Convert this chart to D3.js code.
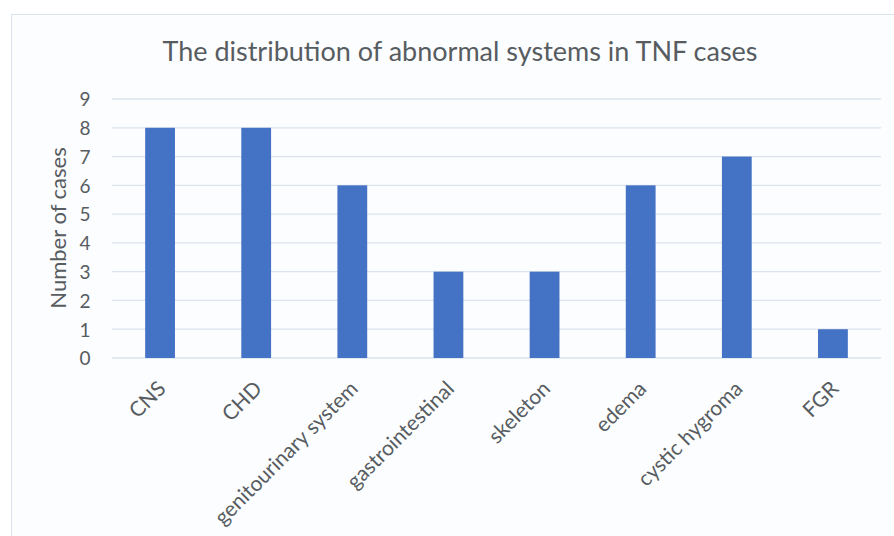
<!DOCTYPE html>
<html><head><meta charset="utf-8">
<script src="https://cdn.jsdelivr.net/npm/d3@7"></script>
<style>body{margin:0;background:#fff}svg{display:block}</style>
</head><body>
<svg id="c" width="894" height="536"></svg>
<script>
const categories = ["CNS","CHD","genitourinary system","gastrointestinal","skeleton","edema","cystic hygroma","FGR"];
const values = [8,8,6,3,3,6,7,1];
const yTicks = [0,1,2,3,4,5,6,7,8,9];
const title = "The distribution of abnormal systems in TNF cases";
const yLabel = "Number of cases";

const svg = d3.select("#c");
const font = "Lato, 'Open Sans', sans-serif";
const textColor = "#575c61";
svg.append("rect").attr("x",11.5).attr("y",14.5).attr("width",900).attr("height",540)
  .attr("fill","#fcfdfe").attr("stroke","#dde3ea").attr("stroke-width",1);

const x = d3.scaleBand().domain(categories).range([112,881]).paddingInner(0.69).paddingOuter(0.345);
const y = d3.scaleLinear().domain([0,9]).range([358,99]);

svg.append("g").selectAll("line").data(yTicks).join("line")
  .attr("x1",112).attr("x2",881).attr("y1",d=>y(d)).attr("y2",d=>y(d))
  .attr("stroke","#dbe4ee").attr("stroke-width",1.3);

svg.append("g").selectAll("rect").data(values).join("rect")
  .attr("x",(d,i)=>x(categories[i])).attr("width",x.bandwidth())
  .attr("y",d=>y(d)).attr("height",d=>y(0)-y(d)).attr("fill","#4472c4");

const yAxis = d3.axisLeft(y).tickValues(yTicks).tickSize(0).tickPadding(0).tickFormat(d3.format("d"));
const ga = svg.append("g").attr("transform","translate(92,0)").call(yAxis);
ga.select(".domain").remove();
ga.attr("font-size",null).attr("font-family",null);
ga.selectAll("text").style("font-family",font).style("font-size","19px").attr("fill",textColor).attr("text-anchor","middle").attr("x",-7).attr("dy","0.36em");

const xAxis = d3.axisBottom(x).tickSize(0).tickPadding(0);
const gx = svg.append("g").attr("transform","translate(0,358)").call(xAxis);
gx.select(".domain").remove();
gx.attr("font-size",null).attr("font-family",null);
gx.selectAll("text").style("font-family",font).style("font-size","21px").attr("fill",textColor)
  .attr("text-anchor","end").attr("dy",0).attr("y",0)
  .attr("transform","translate(7,32) rotate(-45)");

svg.append("text").attr("x",460).attr("y",61).attr("text-anchor","middle")
  .style("font-family",font).style("font-size","27px").attr("fill",textColor).text(title);

svg.append("text").attr("transform","translate(66,228) rotate(-90)").attr("text-anchor","middle")
  .style("font-family",font).style("font-size","22px").attr("fill",textColor).text(yLabel);
</script>
</body></html>
